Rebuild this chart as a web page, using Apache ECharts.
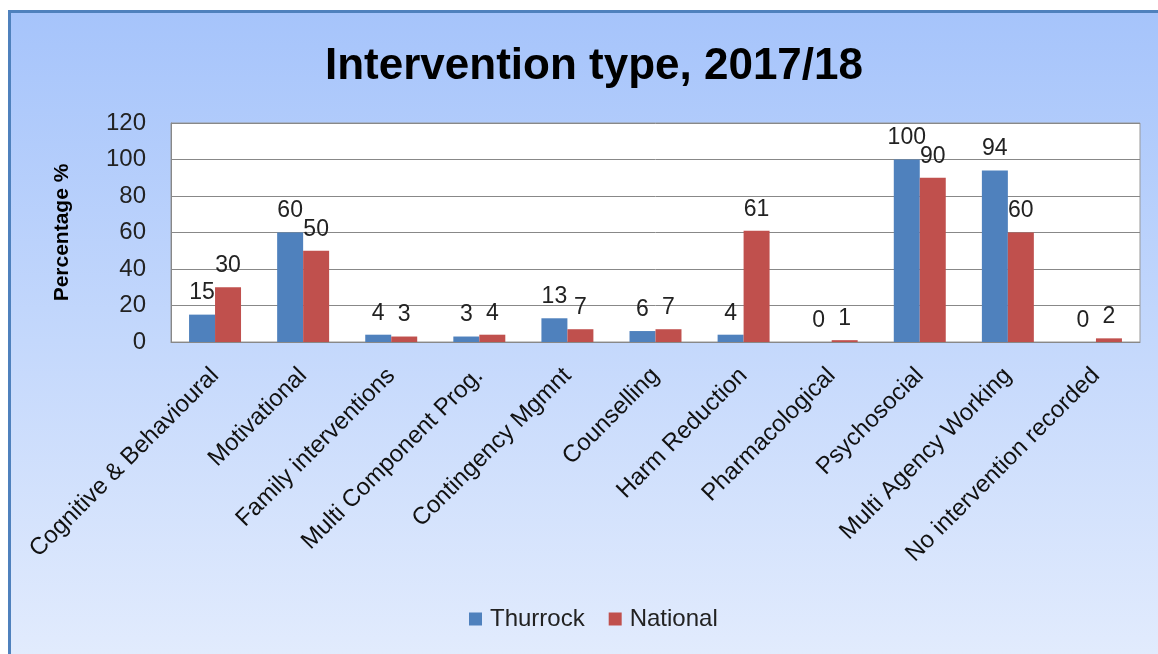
<!DOCTYPE html>
<html>
<head>
<meta charset="utf-8">
<script src="https://cdn.jsdelivr.net/npm/echarts@6/dist/echarts.min.js"></script>
<style>
html,body{margin:0;padding:0;background:#fff;width:1158px;height:654px;overflow:hidden;}
#bg{position:absolute;left:8px;top:10px;width:1160px;height:660px;box-sizing:border-box;border-left:3px solid #4f81bd;border-top:3px solid #4f81bd;background:linear-gradient(to bottom,#a6c4fb 0%,#c4d8fc 50%,#e3ecfd 100%);}
#chart{position:absolute;left:0;top:0;width:1158px;height:654px;}
</style>
</head>
<body>
<div id="bg"></div>
<div id="chart"></div>
<script>
const categories = ["Cognitive & Behavioural","Motivational","Family interventions","Multi Component Prog.","Contingency Mgmnt","Counselling","Harm Reduction","Pharmacological","Psychosocial","Multi Agency Working","No intervention recorded"];
const thurrock = [15,60,4,3,13,6,4,0,100,94,0];
const national = [30,50,3,4,7,7,61,1,90,60,2];
const seriesNames = ["Thurrock","National"];
const titleText = "Intervention type, 2017/18";
const yAxisName = "Percentage %";

const font = "Liberation Sans, Arial, sans-serif";
const chart = echarts.init(document.getElementById('chart'));
const labelCfg = {show:true, position:'top', distance:10, fontFamily:font, fontSize:23, color:'#222'};
chart.setOption({
  backgroundColor:'transparent',
  animation:false,
  title:{text:titleText,left:320,top:40,textStyle:{fontFamily:font,fontWeight:'bold',fontSize:44,color:'#000'}},
  legend:{data:seriesNames,bottom:18,left:464,itemWidth:13,itemHeight:13,itemGap:24,icon:'rect',
    textStyle:{fontFamily:font,fontSize:24,color:'#222',padding:[0,0,0,3]}},
  grid:{left:171,top:123,right:18,bottom:312,show:true,backgroundColor:'#fff',borderColor:'#999',borderWidth:1},
  xAxis:{type:'category',data:categories,axisTick:{show:false},axisLine:{lineStyle:{color:'#888'}},
    axisLabel:{interval:0,rotate:45,margin:30,fontFamily:font,fontSize:24,color:'#111'}},
  yAxis:{type:'value',min:0,max:120,interval:20,name:yAxisName,nameLocation:'middle',nameGap:98,nameRotate:90,
    nameTextStyle:{fontFamily:font,fontWeight:'bold',fontSize:21,color:'#000'},
    axisLine:{show:true,lineStyle:{color:'#888'}},axisTick:{show:false},
    splitLine:{lineStyle:{color:'#888'}},
    axisLabel:{margin:25,fontFamily:font,fontSize:24,color:'#222'}},
  series:[
    {name:seriesNames[0],type:'bar',data:thurrock,itemStyle:{color:'#4f81bd'},barGap:'0%',barCategoryGap:'41%',label:labelCfg},
    {name:seriesNames[1],type:'bar',data:national,itemStyle:{color:'#c0504d'},label:labelCfg}
  ]
});
</script>
</body>
</html>
